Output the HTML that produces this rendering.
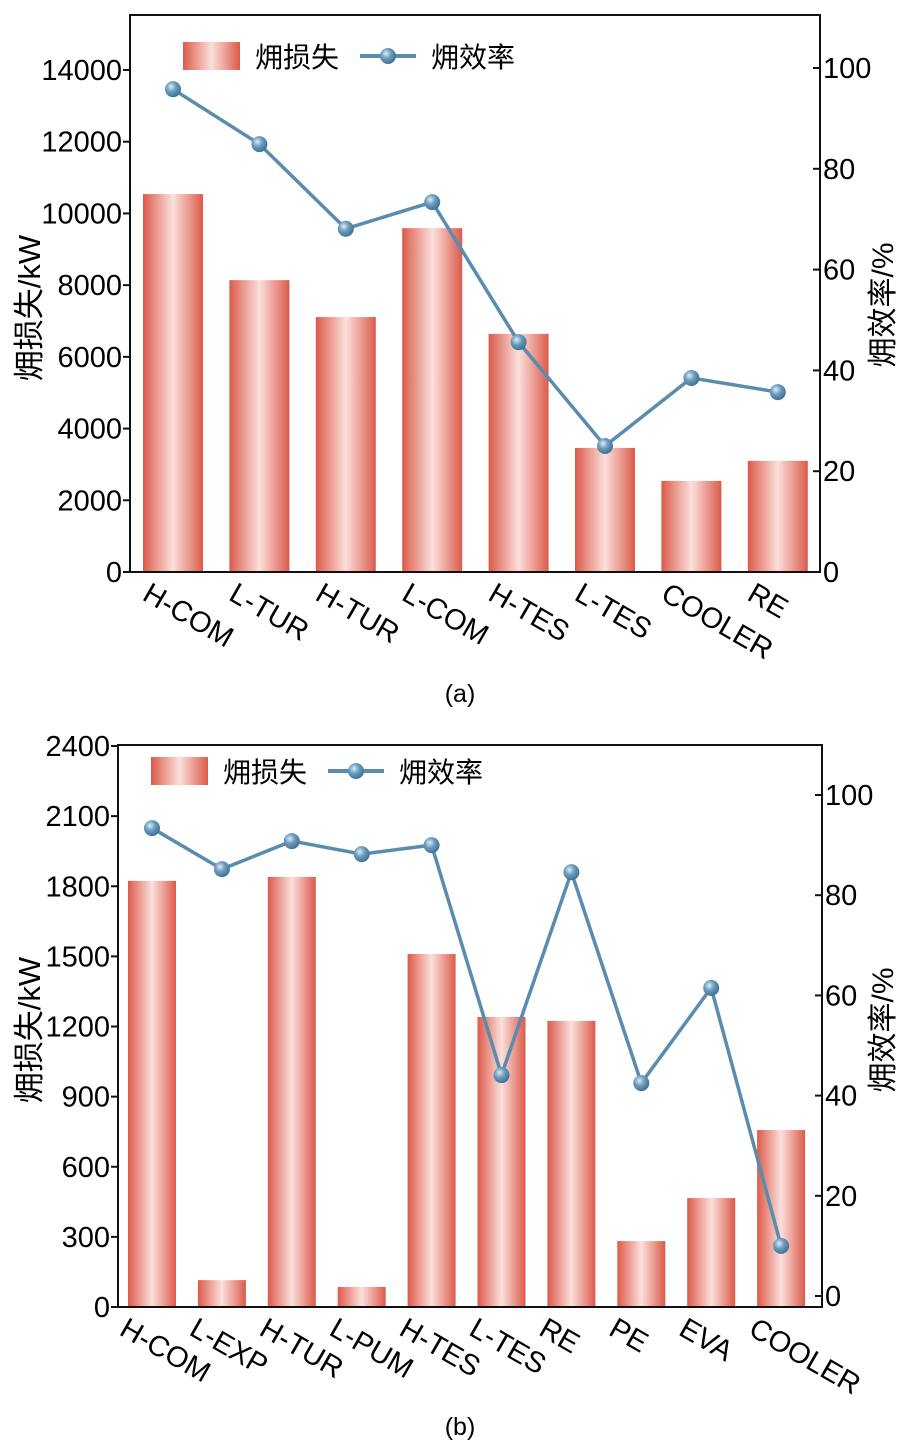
<!DOCTYPE html>
<html><head><meta charset="utf-8">
<style>
html,body{margin:0;padding:0;background:#fff;}
svg{display:block;font-family:"Liberation Sans","Noto Sans CJK SC",sans-serif;}
</style></head>
<body>
<svg id="chart" width="919" height="1453" viewBox="0 0 919 1453" xmlns="http://www.w3.org/2000/svg">
<defs>
<linearGradient id="barGrad" x1="0" x2="1" y1="0" y2="0">
<stop offset="0" stop-color="#dc5a4a"/><stop offset="0.5" stop-color="#fbe0dc"/><stop offset="1" stop-color="#dc5a4a"/>
</linearGradient>
<radialGradient id="dotGrad" cx="0.38" cy="0.35" r="0.7">
<stop offset="0" stop-color="#dcecf5"/><stop offset="0.45" stop-color="#6a9cbd"/><stop offset="1" stop-color="#3c6d90"/>
</radialGradient>
</defs>
<text x="460" y="702" font-size="25" text-anchor="middle">(a)</text>
<text x="460" y="1435" font-size="25" text-anchor="middle">(b)</text>
</svg>
<script>
// Chart (a)
const catsA = ["H-COM","L-TUR","H-TUR","L-COM","H-TES","L-TES","COOLER","RE"];
const lossA = [10540,8140,7110,9590,6640,3460,2540,3100];
const effA = [95.8,84.9,68.1,73.4,45.6,25.0,38.5,35.7];
const leftTicksA = [0,2000,4000,6000,8000,10000,12000,14000];
const rightTicksA = [0,20,40,60,80,100];
// Chart (b)
const catsB = ["H-COM","L-EXP","H-TUR","L-PUM","H-TES","L-TES","RE","PE","EVA","COOLER"];
const lossB = [1823,115,1840,86,1510,1241,1224,282,466,757];
const effB = [93.4,85.2,90.8,88.2,90.0,44.1,84.6,42.5,61.5,10.0];
const leftTicksB = [0,300,600,900,1200,1500,1800,2100,2400];
const rightTicksB = [0,20,40,60,80,100];

const NS="http://www.w3.org/2000/svg";
const svg=document.getElementById('chart');
function mk(tag,attrs,parent){const e=document.createElementNS(NS,tag);for(const k in attrs)e.setAttribute(k,attrs[k]);(parent||svg).appendChild(e);return e;}

function draw(cfg,cats,loss,eff,lt,rt){
  const g=mk('g',{});
  
  
  const xc=i=>cfg.c0+cfg.band*i;
  const yL=v=>cfg.yb-(v-0)*(cfg.yb-cfg.lTopY)/cfg.lTopV;
  const yR=v=>cfg.rZeroY-v*(cfg.rZeroY-cfg.rTopY)/100;
  loss.forEach((v,i)=>{
    const r=mk('rect',{x:xc(i)-cfg.bw/2,y:yL(v),width:cfg.bw,height:cfg.yb-yL(v),fill:'url(#barGrad)'},g);
    
    
  });
  const f=mk('rect',{x:cfg.x0,y:cfg.yt,width:cfg.x1-cfg.x0,height:cfg.yb-cfg.yt,fill:'none',stroke:'#111','stroke-width':2},g);
  
  
  lt.forEach(v=>{
    const y=yL(v);
    mk('line',{x1:cfg.x0-7,x2:cfg.x0,y1:y,y2:y,stroke:'#111','stroke-width':2},g);
    const t=mk('text',{x:cfg.x0-8,y:y+10,'font-size':29,'text-anchor':'end'},g);
    t.textContent=v;
    
    
  });
  rt.forEach(v=>{
    const y=yR(v);
    mk('line',{x1:cfg.x1-7,x2:cfg.x1,y1:y,y2:y,stroke:'#111','stroke-width':2},g);
    const t=mk('text',{x:cfg.x1+3,y:y+10,'font-size':29},g);
    t.textContent=v;
    
    
  });
  cats.forEach((c,i)=>{
    const x=xc(i)-cfg.lblOff, y=cfg.yb+27;
    const t=mk('text',{x:x,y:y,'font-size':29,transform:`rotate(30 ${x} ${y})`},g);
    t.textContent=c;
    
    
  });
  const pts=eff.map((v,i)=>xc(i)+','+yR(v)).join(' ');
  const pl=mk('polyline',{points:pts,fill:'none',stroke:'#5a8cae','stroke-width':3.5},g);
  
  
  eff.forEach((v,i)=>{
    const c=mk('circle',{cx:xc(i),cy:yR(v),r:8,fill:'url(#dotGrad)'},g);
    
    
  });
  const lx=cfg.ltx, ly=cfg.lty;
  const at=mk('text',{x:lx,y:ly,'font-size':31,'text-anchor':'middle',transform:`rotate(-90 ${lx} ${ly})`},g);
  at.textContent='㶲损失/kW';
  
  
  const rx=cfg.rtx, ry=cfg.rty;
  const bt=mk('text',{x:rx,y:ry,'font-size':30,'text-anchor':'middle',transform:`rotate(-90 ${rx} ${ry})`},g);
  bt.textContent='㶲效率/%';
  
  
  const lg=mk('g',{},g);
  
  
  const L=cfg.leg;
  mk('rect',{x:L.x,y:L.y,width:57,height:28,fill:'url(#barGrad)'},lg);
  const t1=mk('text',{x:L.x+72,y:L.y+25,'font-size':28},lg);t1.textContent='㶲损失';
  
  
  mk('line',{x1:L.x+177,x2:L.x+233,y1:L.y+14,y2:L.y+14,stroke:'#5a8cae','stroke-width':4},lg);
  mk('circle',{cx:L.x+205,cy:L.y+14,r:8,fill:'url(#dotGrad)'},lg);
  const t2=mk('text',{x:L.x+248,y:L.y+25,'font-size':28},lg);t2.textContent='㶲效率';
  
  
}
draw({id:'a',x0:130,x1:820,yt:15,yb:572,c0:173,band:86.4,lTopY:70,lTopV:14000,rZeroY:572,rTopY:68,bw:60,lblOff:32,ltx:40,lty:308,rtx:893,rty:305,leg:{x:183,y:42}},catsA,lossA,effA,leftTicksA,rightTicksA);
draw({id:'b',x0:118,x1:822,yt:745,yb:1307,c0:152,band:69.9,lTopY:746,lTopV:2400,rZeroY:1296,rTopY:795,bw:48,lblOff:34,ltx:40,lty:1030,rtx:893,rty:1030,leg:{x:151,y:757}},catsB,lossB,effB,leftTicksB,rightTicksB);
</script>
</body></html>
